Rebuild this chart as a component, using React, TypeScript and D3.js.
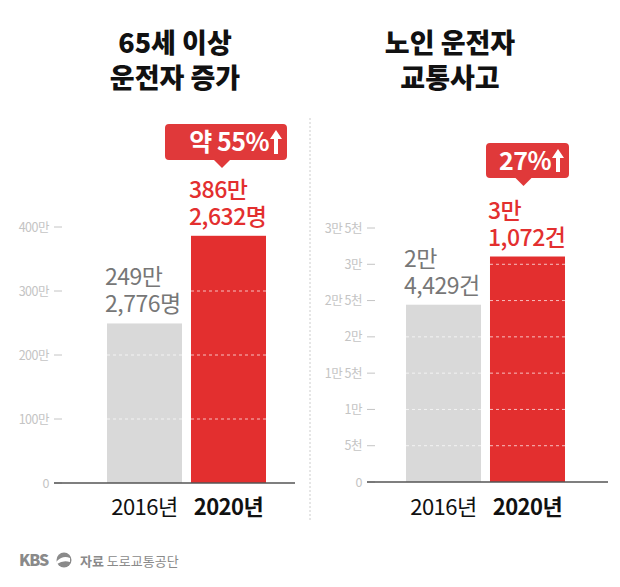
import * as d3 from "d3";

const FONT = "'Noto Sans CJK KR', 'Noto Sans', sans-serif";

// left panel: 65세 이상 운전자
const leftCategories = ["2016년", "2020년"];
const leftValues = [2492776, 3862632];
const leftLabels = [
  ["249만", "2,776명"],
  ["386만", "2,632명"],
];
const leftTicks = [0, 1000000, 2000000, 3000000, 4000000];
const leftTickLabels = ["0", "100만", "200만", "300만", "400만"];
const leftBadge = "약 55%";

// right panel: 노인 운전자 교통사고
const rightCategories = ["2016년", "2020년"];
const rightValues = [24429, 31072];
const rightLabels = [
  ["2만", "4,429건"],
  ["3만", "1,072건"],
];
const rightTicks = [0, 5000, 10000, 15000, 20000, 25000, 30000, 35000];
const rightTickLabels = ["0", "5천", "1만", "1만 5천", "2만", "2만 5천", "3만", "3만 5천"];
const rightBadge = "27%";

const RED = "#e32f2f";
const GRAY_BAR = "#d9d9d9";
const GRAY_TEXT = "#777";

type PanelProps = {
  title: string[];
  titleX: number;
  categories: string[];
  values: number[];
  labels: string[][];
  ticks: number[];
  tickLabels: string[];
  badge: string;
  badgeBox: [number, number, number, number];
  yRange: [number, number];
  domainMax: number;
  xRange: [number, number];
  axisX: [number, number];
  tickRight: number;
};

function Panel(p: PanelProps) {
  const y = d3.scaleLinear().domain([0, p.domainMax]).range(p.yRange);
  const x = d3.scaleBand<string>().domain(p.categories).range(p.xRange).paddingInner(0.107);
  const base = y(0);
  const [bx0, by0, bx1, by1] = p.badgeBox;
  const tipX = (bx0 + bx1) / 2 - 4;

  return (
    <g>
      {p.title.map((t, i) => (
        <text key={t} x={p.titleX} y={53 + i * 35} textAnchor="middle" fontSize={27} fontWeight={900} fill="#111" fontFamily={FONT}>
          {t}
        </text>
      ))}

      {/* ticks */}
      {p.ticks.map((t, i) => (
        <g key={t}>
          <text x={p.tickRight - 13} y={y(t) + 4.5} textAnchor="end" fontSize={12.5} fill="#c4c4c4" fontFamily={FONT} letterSpacing={-0.5}>
            {p.tickLabels[i]}
          </text>
          <line x1={p.tickRight - 8} x2={p.tickRight} y1={y(t)} y2={y(t)} stroke="#c4c4c4" strokeWidth={1} />
        </g>
      ))}

      {/* bars */}
      {p.categories.map((c, i) => {
        const top = y(p.values[i]);
        const bx = x(c)!;
        const w = x.bandwidth();
        return (
          <g key={c}>
            <rect x={bx} y={top} width={w} height={base - top} fill={i === 0 ? GRAY_BAR : RED} />
            {p.ticks
              .filter((t) => t > 0 && y(t) > top + 3)
              .map((t) => (
                <line key={t} x1={bx} x2={bx + w} y1={y(t)} y2={y(t)} stroke="#fff" strokeOpacity={0.7} strokeDasharray="3,3" strokeWidth={1} />
              ))}
            {p.labels[i].map((l, j) => (
              <text key={l} x={bx - 2} y={top - 38 + j * 27} fontSize={23} fill={i === 0 ? GRAY_TEXT : RED} fontFamily={FONT} fontWeight={i === 0 ? 400 : 500} letterSpacing={-0.5}>
                {l}
              </text>
            ))}
            <text x={bx + w / 2} y={515} textAnchor="middle" fontSize={22} fontWeight={i === 0 ? 400 : 700} fill="#111" fontFamily={FONT} letterSpacing={-0.5}>
              {c}
            </text>
          </g>
        );
      })}

      <line x1={p.axisX[0]} x2={p.axisX[1]} y1={base} y2={base} stroke="#555" strokeWidth={1.5} />

      {/* badge */}
      <path
        d={`M${bx0 + 4},${by0} H${bx1 - 4} Q${bx1},${by0} ${bx1},${by0 + 4} V${by1 - 4} Q${bx1},${by1} ${bx1 - 4},${by1} H${tipX + 8} L${tipX},${by1 + 8} L${tipX - 8},${by1} H${bx0 + 4} Q${bx0},${by1} ${bx0},${by1 - 4} V${by0 + 4} Q${bx0},${by0} ${bx0 + 4},${by0} Z`}
        fill="#e0393a"
      />
      <text x={bx1 - 18} y={(by0 + by1) / 2 + 9} textAnchor="end" fontSize={25} fontWeight={700} fill="#fff" fontFamily={FONT} letterSpacing={-0.5}>
        {p.badge}
      </text>
      <path
        d={`M${bx1 - 11},${by0 + 6} L${bx1 - 5},${by0 + 15} H${bx1 - 9} V${by1 - 6} H${bx1 - 13} V${by0 + 15} H${bx1 - 17} Z`}
        fill="#fff"
      />
    </g>
  );
}

export default function App() {
  return (
    <svg width={620} height={587} viewBox="0 0 620 587" style={{ display: "block", margin: "-8px", background: "#fff" }}>
      <rect width={620} height={587} fill="#fff" />
      <Panel
        title={["65세 이상", "운전자 증가"]}
        titleX={175}
        categories={leftCategories}
        values={leftValues}
        labels={leftLabels}
        ticks={leftTicks}
        tickLabels={leftTickLabels}
        badge={leftBadge}
        badgeBox={[165, 124, 287, 160]}
        yRange={[483, 227]}
        domainMax={4000000}
        xRange={[107, 266]}
        axisX={[54, 295]}
        tickRight={62}
      />
      <line x1={310} x2={310} y1={118} y2={522} stroke="#ccc" strokeDasharray="2,2" strokeWidth={1} />
      <Panel
        title={["노인 운전자", "교통사고"]}
        titleX={450}
        categories={rightCategories}
        values={rightValues}
        labels={rightLabels}
        ticks={rightTicks}
        tickLabels={rightTickLabels}
        badge={rightBadge}
        badgeBox={[486, 143, 569, 178]}
        yRange={[482, 228]}
        domainMax={35000}
        xRange={[406, 565]}
        axisX={[367, 608]}
        tickRight={375}
      />
      {/* footer */}
      <text x={19} y={566} fontSize={16} fontWeight={900} fill="#8a8a8a" fontFamily={FONT} letterSpacing={-1}>
        KBS
      </text>
      <circle cx={64} cy={560} r={7.5} fill="#8a8a8a" />
      <path d="M57,561 Q63,555 70,558 L70,562 Q63,560 57,564 Z" fill="#fff" />
      <text x={80} y={566} fontSize={13} fill="#8a8a8a" fontFamily={FONT}>
        <tspan fontWeight={700}>자료</tspan> 도로교통공단
      </text>
    </svg>
  );
}
